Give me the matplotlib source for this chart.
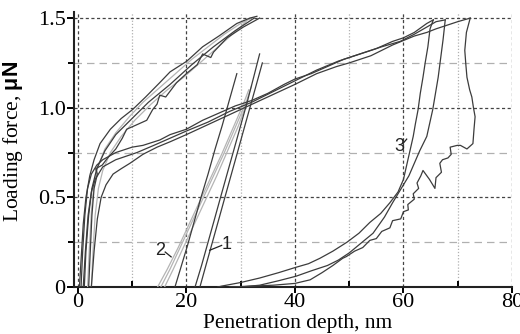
import matplotlib
matplotlib.use('Agg')
import matplotlib.pyplot as plt
from matplotlib.ticker import MultipleLocator, FixedLocator

# Load-displacement curves, depth in nm, force in uN

# 1) Curves 1 and 2: loading branches
load12_dark_a_x = [0.3, 0.6, 1.0, 1.5, 2.2, 3.0, 4.1, 6.0, 8.0, 10.1, 12.5, 15.1, 17.0, 20.1, 23.0, 26.0, 29.3, 31.7, 33.0]
load12_dark_a_y = [0, 0.15, 0.35, 0.5, 0.62, 0.71, 0.80, 0.88, 0.94, 0.99, 1.06, 1.14, 1.20, 1.26, 1.34, 1.40, 1.47, 1.50, 1.51]

load12_dark_b_x = [2.0, 2.3, 2.6, 3.0, 3.6, 3.3, 4.5, 5.5, 7.0, 8.2, 9.0, 10.5, 12.7, 13.8, 14.6, 15.1, 16.2, 18.2, 20.0, 22.0, 23.0, 24.5, 25.0, 27.5, 30.5, 33.5]
load12_dark_b_y = [0, 0.2, 0.4, 0.55, 0.63, 0.66, 0.68, 0.72, 0.77, 0.83, 0.88, 0.90, 0.93, 0.99, 1.02, 1.07, 1.06, 1.14, 1.19, 1.24, 1.30, 1.28, 1.31, 1.39, 1.45, 1.50]

load12_dark_c_x = [1.2, 1.5, 2.0, 2.6, 3.5, 5.0, 7.0, 10.0, 13.0, 17.0, 21.0, 25.0, 29.0, 32.5]
load12_dark_c_y = [0, 0.2, 0.4, 0.55, 0.66, 0.76, 0.85, 0.94, 1.03, 1.13, 1.24, 1.34, 1.43, 1.50]

load12_gray_a_x = [1.8, 2.1, 2.5, 3.0, 3.8, 5.0, 7.0, 9.5, 12.0, 15.0, 18.0, 21.0, 24.0, 27.0, 30.0, 32.0]
load12_gray_a_y = [0, 0.2, 0.42, 0.58, 0.68, 0.77, 0.86, 0.95, 1.03, 1.11, 1.19, 1.27, 1.34, 1.41, 1.47, 1.50]

load12_gray_b_x = [2.5, 2.8, 3.2, 3.8, 4.6, 6.0, 8.0, 10.5, 13.5, 16.5, 19.5, 22.5, 25.5, 28.5, 31.0]
load12_gray_b_y = [0, 0.2, 0.4, 0.55, 0.65, 0.75, 0.84, 0.93, 1.02, 1.10, 1.17, 1.25, 1.33, 1.41, 1.48]

# 2) Curves 1 and 2: unloading branches
unload1_a_x = [21.6, 22.8, 24.0, 25.2, 26.3, 27.5, 28.8, 30.0, 31.2, 32.4, 33.5]
unload1_a_y = [0, 0.12, 0.25, 0.38, 0.50, 0.63, 0.77, 0.90, 1.03, 1.17, 1.30]

unload1_b_x = [22.5, 23.6, 24.8, 26.0, 27.1, 28.3, 29.5, 30.6, 31.8, 33.0, 34.0]
unload1_b_y = [0, 0.12, 0.25, 0.38, 0.50, 0.63, 0.76, 0.88, 1.01, 1.14, 1.25]

unload2_dark_x = [17.9, 19.0, 20.2, 21.4, 22.7, 24.0, 25.3, 26.6, 27.9, 29.3]
unload2_dark_y = [0, 0.11, 0.23, 0.36, 0.50, 0.63, 0.77, 0.90, 1.04, 1.19]

unload2_gray_a_x = [14.7, 16.5, 18.5, 20.5, 22.5, 24.5, 26.5, 28.5, 30.5, 31.5]
unload2_gray_a_y = [0, 0.10, 0.22, 0.35, 0.48, 0.61, 0.74, 0.88, 1.02, 1.10]

unload2_gray_b_x = [15.3, 17.0, 19.0, 21.0, 23.0, 25.0, 27.0, 29.0, 31.0, 32.0]
unload2_gray_b_y = [0, 0.10, 0.23, 0.36, 0.49, 0.62, 0.75, 0.89, 1.03, 1.12]

unload2_gray_c_x = [16.0, 17.6, 19.6, 21.6, 23.6, 25.6, 27.6, 29.6, 31.3]
unload2_gray_c_y = [0, 0.10, 0.23, 0.36, 0.49, 0.62, 0.76, 0.90, 1.04]

# 3) Curve 3: loading branches
load3_a_x = [0.6, 0.9, 1.3, 1.8, 2.5, 3.5, 4.6, 7.0, 10.0, 12.0, 15.1, 17.0, 20.0, 23.0, 26.0, 29.0, 32.0, 35.0, 38.0, 40.0, 43.0, 46.0, 49.0, 52.0, 55.0, 58.0, 60.0, 62.0, 64.3, 65.5]
load3_a_y = [0, 0.2, 0.4, 0.55, 0.63, 0.68, 0.71, 0.75, 0.78, 0.79, 0.82, 0.85, 0.88, 0.93, 0.97, 1.01, 1.04, 1.08, 1.13, 1.16, 1.19, 1.23, 1.27, 1.30, 1.33, 1.37, 1.39, 1.42, 1.47, 1.49]

load3_b_x = [1.0, 1.4, 1.9, 2.5, 3.2, 4.6, 7.0, 10.9, 14.0, 17.0, 20.0, 24.0, 28.0, 32.0, 36.0, 40.0, 44.0, 48.0, 52.0, 56.0, 59.4, 62.0, 64.3, 66.0, 67.7]
load3_b_y = [0, 0.2, 0.4, 0.53, 0.60, 0.67, 0.71, 0.75, 0.79, 0.83, 0.87, 0.92, 0.98, 1.03, 1.09, 1.15, 1.21, 1.26, 1.30, 1.34, 1.37, 1.41, 1.45, 1.48, 1.49]

load3_c_x = [2.5, 3.0, 3.6, 4.3, 5.2, 6.5, 8.0, 9.6, 12.0, 14.6, 17.0, 20.0, 25.0, 30.0, 35.0, 40.0, 44.0, 47.7, 50.0, 54.0, 58.0, 62.0, 64.3, 66.0, 68.0, 70.0, 72.3]
load3_c_y = [0, 0.2, 0.38, 0.5, 0.57, 0.63, 0.66, 0.69, 0.74, 0.78, 0.81, 0.85, 0.92, 0.99, 1.06, 1.13, 1.19, 1.23, 1.25, 1.29, 1.35, 1.40, 1.42, 1.44, 1.46, 1.48, 1.50]

# 4) Curve 3: unloading branches
unload3_a_x = [65.5, 64.9, 64.5, 64.0, 63.6, 63.1, 62.7, 62.2, 61.8, 61.2, 60.6, 60.0, 59.0, 57.5, 55.8, 53.8, 51.8, 49.6, 47.0, 44.6, 42.5, 40.2, 37.0, 33.5, 30.0, 26.5, 25.8]
unload3_a_y = [1.49, 1.44, 1.34, 1.25, 1.17, 1.08, 0.99, 0.91, 0.84, 0.76, 0.68, 0.60, 0.53, 0.47, 0.41, 0.36, 0.30, 0.25, 0.20, 0.16, 0.13, 0.11, 0.08, 0.05, 0.025, 0.005, 0]

unload3_b_x = [67.7, 67.3, 66.4, 65.4, 64.3, 63.0, 62.0, 61.0, 60.0, 59.0, 58.0, 56.5, 54.4, 52.0, 50.0, 48.0, 46.0, 43.0, 40.2, 37.0, 33.5, 30.0]
unload3_b_y = [1.49, 1.38, 1.17, 0.99, 0.84, 0.76, 0.69, 0.62, 0.57, 0.52, 0.47, 0.39, 0.30, 0.24, 0.19, 0.15, 0.12, 0.09, 0.06, 0.035, 0.01, 0]

unload3_c_x = [72.3, 71.6, 71.3, 71.5, 71.7, 72.2, 72.6, 72.9, 73.2, 73.0, 72.8, 71.7, 70.5, 69.9, 68.6, 68.8, 68.2, 67.2, 66.7, 67.0, 66.0, 65.8, 64.8, 63.6, 63.2, 62.5, 62.8, 61.8, 62.0, 60.8, 60.9, 60.0, 59.5, 58.0, 57.5, 56.0, 55.0, 53.8, 52.5, 51.0, 49.5, 48.8, 47.0, 45.0, 42.8, 40.0, 36.0, 32.0, 28.0]
unload3_c_y = [1.50, 1.42, 1.32, 1.24, 1.17, 1.10, 1.06, 1.00, 0.95, 0.88, 0.80, 0.77, 0.79, 0.79, 0.78, 0.74, 0.72, 0.71, 0.69, 0.64, 0.61, 0.55, 0.60, 0.65, 0.62, 0.58, 0.55, 0.52, 0.49, 0.46, 0.43, 0.42, 0.38, 0.37, 0.33, 0.31, 0.27, 0.26, 0.22, 0.20, 0.17, 0.16, 0.12, 0.08, 0.04, 0.02, 0.01, 0.005, 0]

# 5) Curve labels: text position and leader line ends
label_names = ['1', '2', '3']
label_x = [27.5, 15.1, 59.2]
label_y = [0.235, 0.205, 0.785]
leader_x = [(24.3, 26.5), (16.1, 17.2), (59.9, 60.6)]
leader_y = [(0.205, 0.232), (0.195, 0.168), (0.80, 0.825)]

xticks = [0, 20, 40, 60, 80]
yticks = [0, 0.5, 1.0, 1.5]
ytick_labels = ['0', '0.5', '1.0', '1.5']

dark = '#3c3c3c'
gray = '#b4b4b4'

plt.rcParams['font.family'] = 'Liberation Serif'
plt.rcParams['mathtext.fontset'] = 'custom'
plt.rcParams['mathtext.rm'] = 'Liberation Serif'
plt.rcParams['mathtext.bf'] = 'Liberation Sans:bold'

fig = plt.figure(figsize=(5.2, 3.34), dpi=100)
ax = fig.add_axes([74 / 520, 47 / 334, 438 / 520, 275 / 334])

# grey curves first so the dark ones sit on top
for xs, ys in [(load12_gray_a_x, load12_gray_a_y), (load12_gray_b_x, load12_gray_b_y),
               (unload2_gray_a_x, unload2_gray_a_y), (unload2_gray_b_x, unload2_gray_b_y),
               (unload2_gray_c_x, unload2_gray_c_y)]:
    ax.plot(xs, ys, color=gray, lw=0.9, zorder=3)

for xs, ys in [(load12_dark_a_x, load12_dark_a_y), (load12_dark_b_x, load12_dark_b_y),
               (load12_dark_c_x, load12_dark_c_y),
               (unload1_a_x, unload1_a_y), (unload1_b_x, unload1_b_y),
               (unload2_dark_x, unload2_dark_y),
               (load3_a_x, load3_a_y), (load3_b_x, load3_b_y), (load3_c_x, load3_c_y),
               (unload3_a_x, unload3_a_y), (unload3_b_x, unload3_b_y),
               (unload3_c_x, unload3_c_y)]:
    ax.plot(xs, ys, color=dark, lw=0.9, zorder=4)

for name, tx, ty, lx, ly in zip(label_names, label_x, label_y, leader_x, leader_y):
    ax.text(tx, ty, name, family='Liberation Sans', fontsize=13,
            ha='center', va='center', color='#222222', zorder=5)
    ax.plot(lx, ly, color='#222222', lw=0.9, zorder=5)

ax.set_xlim(-0.7, 80)
ax.set_ylim(0, 1.534)

ax.xaxis.set_major_locator(FixedLocator(xticks))
ax.xaxis.set_minor_locator(MultipleLocator(10))
ax.yaxis.set_major_locator(FixedLocator(yticks))
ax.yaxis.set_minor_locator(MultipleLocator(0.25))
ax.set_yticklabels(ytick_labels)

ax.grid(which='major', axis='both', color='#444444', lw=0.9, linestyle=(0, (2.5, 2)))
ax.grid(which='minor', axis='x', color='#b0b0b0', lw=0.9, linestyle=(0, (1, 1.5)))
ax.grid(which='minor', axis='y', color='#b0b0b0', lw=0.9, linestyle=(0, (6, 4)))
ax.set_axisbelow(True)

for side in ['top', 'right']:
    ax.spines[side].set_visible(False)
for side in ['left', 'bottom']:
    ax.spines[side].set_linewidth(1.5)
    ax.spines[side].set_color('#222222')

ax.tick_params(axis='x', which='major', direction='out', length=4, width=1.4, labelsize=16, pad=0)
ax.tick_params(axis='x', which='minor', direction='in', length=4, width=1.4)
ax.tick_params(axis='y', which='major', direction='out', length=5, width=1.4, labelsize=16, pad=1)
ax.tick_params(axis='y', which='minor', direction='out', length=4, width=1.4)

ax.set_xlabel('Penetration depth, nm', fontsize=15.5)
ax.set_ylabel('Loading force, $\\mathbf{\u03bcN}$', fontsize=15.5)
ax.xaxis.set_label_coords(0.51, -0.098)
ax.yaxis.set_label_coords(-0.113, 0.53)

fig.savefig('out.png', dpi=100)
